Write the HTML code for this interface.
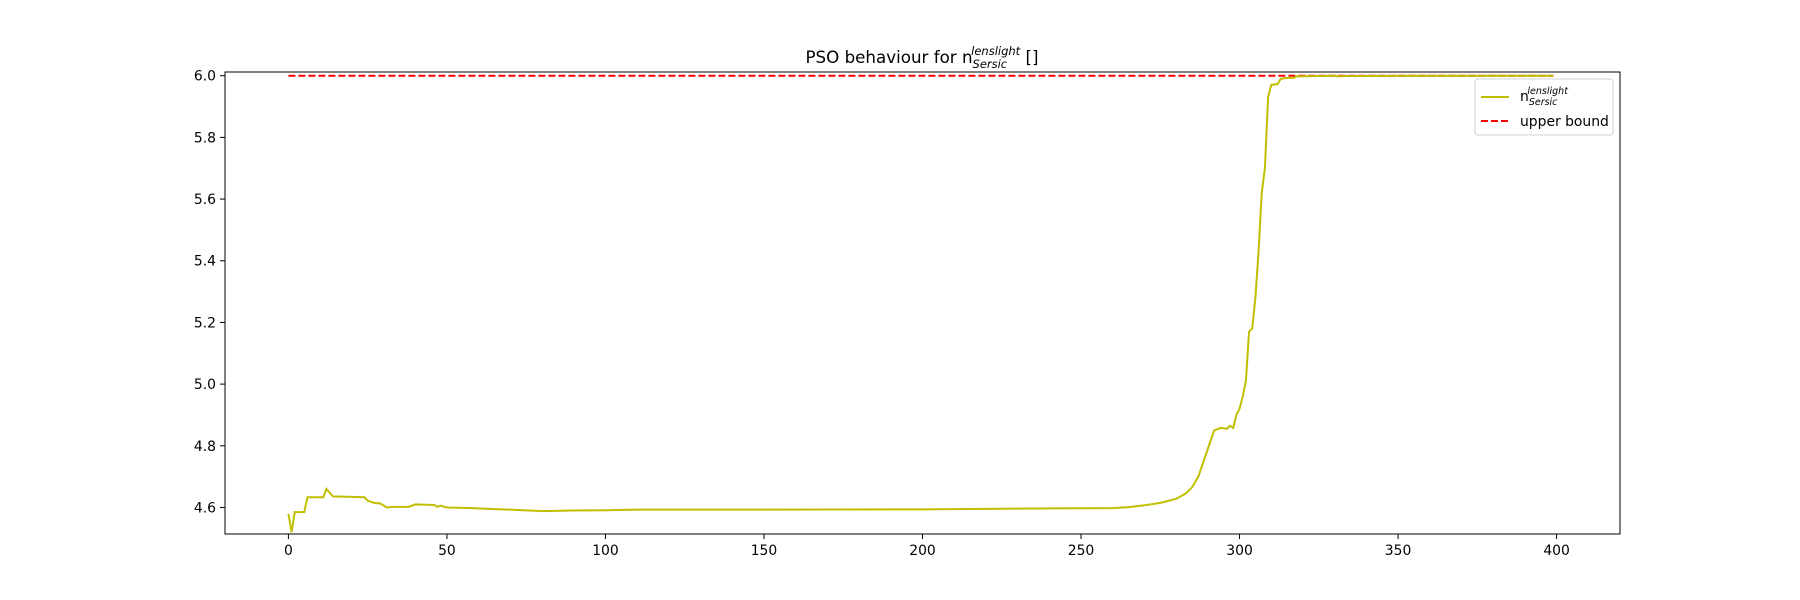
<!DOCTYPE html>
<html><head><meta charset="utf-8"><style>
body{margin:0;background:#fff}
svg{display:block;font-family:"DejaVu Sans","Liberation Sans",sans-serif}
</style></head><body>
<svg id="chart" width="1800" height="600">
<rect width="1800" height="600" fill="#fff"/>
<text x="922" y="63" font-size="16.7" text-anchor="middle">PSO behaviour for n<tspan font-size="11.5" font-style="italic" dy="5">Sersic</tspan><tspan font-size="11.5" font-style="italic" dx="-36" dy="-13">lenslight</tspan><tspan dy="8"> []</tspan></text>
<g id="plot"></g>
<rect x="225" y="72" width="1395" height="462" fill="none" stroke="#000" stroke-width="1"/>
<g>
<rect x="1475" y="79" width="138" height="56" rx="3" fill="#fff" stroke="#ccc" opacity="0.9"/>
<line x1="1481" y1="97" x2="1509" y2="97" stroke="#bfbf00" stroke-width="2"/>
<text x="1520" y="101" font-size="13.9">n<tspan font-size="9.5" font-style="italic" dy="4">Sersic</tspan><tspan font-size="9.5" font-style="italic" dx="-30" dy="-11">lenslight</tspan></text>
<line x1="1481" y1="121" x2="1509" y2="121" stroke="#f00" stroke-width="2" stroke-dasharray="7,3"/>
<text x="1520" y="126" font-size="13.9">upper bound</text>
</g>
</svg>
<script>
const xs=[0,1,2,5,6,11,12,14,24,25,27,29,31,33,38,40,46,47,48,50,58,62,70,80,90,100,110,150,200,240,260,265,270,275,280,283,285,287,289,290,291,292,294,296,297,298,299,300,301,302,303,304,305,306,307,308,309,310,312,313,315,317,318,330,331,333,399];
const ys=[4.58,4.52,4.585,4.585,4.633,4.633,4.66,4.636,4.633,4.622,4.615,4.613,4.600,4.602,4.602,4.61,4.608,4.602,4.606,4.600,4.598,4.596,4.593,4.588,4.590,4.591,4.593,4.593,4.594,4.597,4.598,4.601,4.607,4.615,4.628,4.645,4.665,4.70,4.76,4.79,4.82,4.85,4.858,4.855,4.865,4.858,4.90,4.92,4.96,5.01,5.17,5.18,5.28,5.43,5.62,5.70,5.93,5.97,5.973,5.99,5.993,5.993,5.998,6.0,5.998,5.999,6.0];
const upperBound=6.0;
const xTicks=[0,50,100,150,200,250,300,350,400];
const yTicks=[4.6,4.8,5.0,5.2,5.4,5.6,5.8,6.0];
const L=225,R=1620,T=72,B=534,X0=-20,X1=420,Y0=4.514,Y1=6.012;
const sx=v=>L+(v-X0)/(X1-X0)*(R-L);
const sy=v=>B-(v-Y0)/(Y1-Y0)*(B-T);
const NS='http://www.w3.org/2000/svg';
const g=document.getElementById('plot');
function mk(t,a){const e=document.createElementNS(NS,t);for(const k in a)e.setAttribute(k,a[k]);g.appendChild(e);return e;}
xTicks.forEach(v=>{
 const l=mk('line',{x1:sx(v),x2:sx(v),y1:B,y2:B+5,stroke:'#000'});
 
 
 const t=mk('text',{x:sx(v),y:B+21,'font-size':13.9,'text-anchor':'middle'});
 t.textContent=v;
 
 
});
yTicks.forEach(v=>{
 const l=mk('line',{x1:L-5,x2:L,y1:sy(v),y2:sy(v),stroke:'#000'});
 
 
 const t=mk('text',{x:L-9,y:sy(v)+5,'font-size':13.9,'text-anchor':'end'});
 t.textContent=v.toFixed(1);
 
 
});
const ub=mk('line',{x1:sx(xs[0]),x2:sx(xs[xs.length-1]),y1:sy(upperBound),y2:sy(upperBound),stroke:'#f00','stroke-width':2,'stroke-dasharray':'7,3'});


const p=mk('polyline',{points:xs.map((x,i)=>sx(x)+','+sy(ys[i])).join(' '),fill:'none',stroke:'#bfbf00','stroke-width':2});


</script>
</body></html>
